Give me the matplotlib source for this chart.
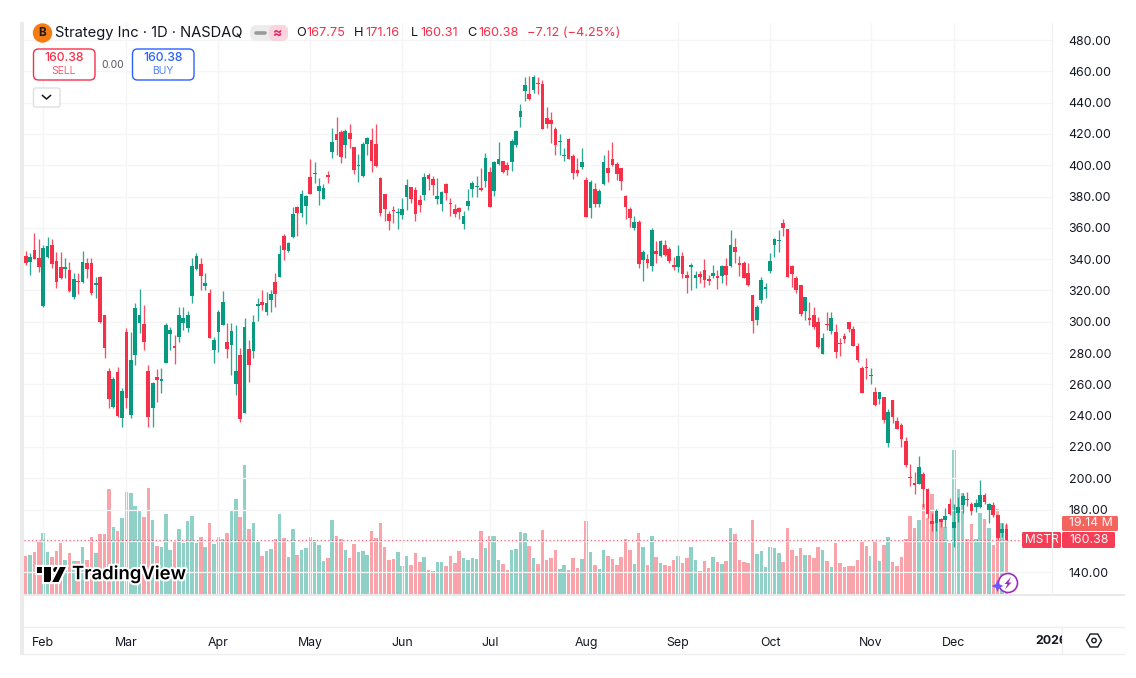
import matplotlib
matplotlib.use('Agg')
from matplotlib import pyplot as plt
from matplotlib import patheffects as pe
from matplotlib.patches import FancyBboxPatch, Circle, Polygon, Rectangle
from matplotlib.transforms import IdentityTransform
import numpy as np

plt.rcParams['font.family'] = ['Inter', 'DejaVu Sans']

opens = [342,338.2,345.8,340.5,310,341.6,349,338.8,335.2,333.7,
         333,316,325.8,325.2,337.7,337.3,323.7,328.4,304.1,268.5,
         245.7,267.7,238.7,293.4,240.4,278.5,299,298.5,268.5,245.1,
         264.7,262.3,273.8,292.4,283.9,290.4,299.2,295.8,316.4,333.9,
         336.9,322.8,318.1,281.9,293.6,297.9,287,285.1,260.2,278.5,
         241.9,282.6,281.3,310.1,312.6,306.2,313.9,325.4,328.4,355,
         345.2,353.9,373.5,369.3,374,392.5,394.4,383.3,378.6,393.7,
         408.2,419.9,421,412.7,420.8,411.8,399.3,393.1,413.5,416.1,
         413.5,392,381.4,368.8,371.4,369.2,368,379.4,386.1,384.1,
         377.5,380.7,393.5,391.4,378.6,375.4,388,375.6,372,372.8,
         362.4,373.7,385,386.1,385.2,390.1,395.6,383.7,400.7,402.7,
         400.1,401.8,412.7,430.6,447.4,445.5,448,452.3,451.9,430.4,
         428.9,423.1,415,405.9,416.9,406.1,396.9,399,390.5,372.9,
         384.6,375,388,398,404.2,400.8,398,380.3,372.2,360.1,
         363.5,339.4,340.1,335.6,345,341.8,348.8,346.5,335.6,335.2,
         342,329.8,334.9,328.1,330.5,333,326.9,329,329.4,329.2,
         335.8,335.8,347.7,337.3,337.5,330.9,316.9,301.1,313.9,320.7,
         332.4,348.8,351.4,363.3,359.2,335.8,327.7,323.5,306.8,301.7,
         304.1,300,279.4,298.1,294.1,293.5,286.2,290.9,299.8,295.4,
         284.5,270.2,270.6,265,255.1,250.4,252.1,222.7,250,236.8,
         234,224,200.6,197.2,196.3,202.7,192.9,172.9,171.6,173.7,
         173.3,183.3,168.4,177.6,183.1,186.4,183.6,181.8,181.8,189.5,
         179.7,183.1,176.3,165.2,167.75]
highs = [345.4,343.7,356.5,352.6,349,354.3,352.6,344.8,344.3,340.5,
         338.4,330.9,330.9,345.2,340.9,340.5,328.8,329.2,304.3,270.2,
         264.9,271.3,257.4,295.8,293.6,311.7,321.1,310.7,272.3,261.7,
         269.6,270.2,299,296.8,291.5,309.6,309.6,307.1,340.5,343.7,
         340.5,330.9,320.7,290.5,307.5,319.6,299.4,299.4,297.9,283,
         302.2,288.3,304.3,314.9,320.3,319.2,320.3,330.9,349,356,
         351.2,373.5,373.9,384.2,381,404,401.8,392,388,396.5,
         423.5,430.6,422.5,422.9,426.1,411.8,407.1,414.6,418.2,423.5,
         426.5,392.2,381.4,370.9,374.1,372.4,378.8,391.2,386.3,385.8,
         381,394.8,394.8,393.1,391.6,383.7,388.4,378.8,375.2,373.5,
         370.9,384.6,389.9,393.1,398.4,407.6,398.6,402.9,415,402.7,
         402.2,416.5,422.5,439.1,456.5,457,457.6,456.1,454.4,437.4,
         434.2,424.2,419.9,411.2,417.4,406.9,404.8,411.2,392.7,390.5,
         388.4,384.6,406.5,409.7,414.6,401.8,398.4,381,373.1,367.8,
         365,345.8,343.3,359.7,351.6,352.2,352.2,348,341.6,349,
         344.5,332.6,337.3,332.6,332.6,339.9,329.8,336.2,333,336.2,
         340.5,358.6,353.3,342,339,337.3,317.1,310.7,328.4,324.5,
         344.1,353.7,358.6,365.4,359.2,336.2,329.2,323.5,316,312.8,
         309.6,303.2,293,306.4,306.2,298.4,289.8,292.6,299.8,297.3,
         286.2,271.7,276.6,270.7,258.1,255.3,252.1,244,250,239.3,
         235.1,226.1,208.9,204.2,214.2,204.2,193.6,177.6,180.1,174.4,
         180.8,187.2,183.3,188.2,190.4,191,185,186.5,198.7,190.8,
         184,185,176.5,171.6,171.16]
lows = [336.2,329.9,339.9,332,309.6,340.5,334.1,321.3,327.1,327.7,
        319.2,314.3,317.7,324.5,327.7,317.1,315.4,299.4,277,244.7,
        244.7,239.3,232.5,244.7,238.3,272.3,292.6,281.9,232.5,232.5,
        248.9,254.2,273.4,281.9,273,287.3,294.7,293.6,311.7,333,
        320.3,320.3,289.4,273.4,280.9,297.9,276.6,265.9,253.2,236.1,
        241.9,261.7,276.6,300.7,307.5,304.3,306.4,309.2,328.4,339.4,
        344.8,353.3,354.8,367.1,362.4,381.6,388.4,374.6,378.2,388.8,
        404.8,406.5,401.2,404.4,410.8,394.4,389.2,392.7,406.5,395.8,
        399,367.5,364.5,358.8,363.3,359.2,365.4,371.3,376,364.5,
        370,377.7,384.1,380.9,375.2,370.9,377.7,367.5,367.1,365.4,
        359.2,371.4,379.9,379.9,383.7,386.3,373.5,380.3,400.1,395.2,
        393.5,396.3,411.4,424.2,441.2,441.6,445.9,445.5,422.9,423.5,
        414,406.5,406.5,402.9,403.7,391,393.1,397.5,366.7,366.5,
        373.5,373.5,387.4,389.5,399.5,390.5,384.2,365.4,360.7,358.6,
        334.1,326,334.5,332.6,337.7,341.1,342,337.3,333,332,
        327.7,318.1,320.3,321.5,324.5,322.4,323.5,327.7,320.7,325,
        323.5,335.2,337.3,329.2,327.7,322.8,293,297.9,311.7,314.9,
        331.3,341.6,344.8,355,328.4,322.4,318.6,303.9,301.1,297.9,
        295.1,283,279.4,294.7,292,277,278.1,286.2,293.7,284.5,
        274.3,254.7,263.2,260.2,246.2,247.4,235.5,220.2,235.1,231.3,
        220.2,207.4,195,189.9,196.3,181.8,174.4,166.3,166.3,169,
        169,176.5,156.3,172.3,177.6,182.3,176.5,178.6,180.8,183.6,
        171.6,175.5,160.5,162.2,160.31]
closes = [337.3,341.1,340.3,335.2,347.3,348.6,336.7,325.6,327.7,335,
          319.6,327.1,325.2,337.9,333.9,318.1,324.3,299.8,283,250.8,
          263.4,240,255.5,251,275.5,308.8,304.3,287.3,239.3,260.6,
          262.8,263.2,297.9,294.5,283.4,304.5,302.4,304.3,335.8,342,
          329.4,324.9,289.4,288.3,306.2,312.6,282.6,294.1,268.5,237.8,
          296.8,272.3,300,311.5,310.9,311.9,317.5,317.7,343.3,345.8,
          350.5,369,369.7,381.8,380.3,381.6,395,386.7,385.6,392.7,
          414.6,416.1,405,422,416.9,397.1,399.9,413.5,417.1,402.7,
          399.5,369.4,372,364.3,370.9,369.6,372.2,387.5,378.4,369,
          374.8,392.4,391.4,387.3,380.1,383.1,382.4,375.2,369,369.9,
          367.5,377.1,388.8,386.7,384.1,404.6,373.5,402.2,404.2,395.8,
          397.1,415.4,422,434.6,451,442.1,456.1,451.9,423.1,426.3,
          426.5,412.7,415.4,406.3,404.1,394.8,395.2,402,366.7,389.5,
          375.2,383.5,402.1,395.2,400.1,394.4,389.9,373.1,366.5,363.9,
          336.7,344.5,337.5,358.4,343.5,351.8,342.4,339,335.2,341.8,
          330.5,327.9,336.2,330.1,328.6,326.6,326.2,331.3,327.9,335.4,
          329.6,349.2,344.8,336.2,327.9,323.2,300.7,309.6,326.7,322.4,
          338.8,352.8,352,359.7,328.4,330.7,320.3,304.9,315.8,301.3,
          296.6,283.8,289.8,297.7,302.2,280.9,285.8,289.2,295.4,284.7,
          275.6,254.7,270.2,265.4,246.8,255.3,237.2,242.3,239.3,231.3,
          224.9,208.5,200.2,195.7,207,192.9,177.1,170.8,179.3,172.3,
          175.9,177.2,171.8,181.6,188.7,186,179.1,184,189.3,184.6,
          183.6,176.3,161.6,167.8,160.38]
volumes = [10.6,10.9,11.7,14.4,17,11.7,10.2,11.9,14,9.4,
           11.3,9.2,9.2,13,9.5,15.8,11.4,16.7,16.7,29.1,
           18.5,17.4,21,28.3,27.9,24.4,23.4,21.2,29.3,20.5,
           13.3,12.9,22.1,12.2,14.4,18,14.2,20.3,21.5,14.2,
           15.7,12.9,19.7,13.8,15.7,15.1,17,23,26.3,21.3,
           35.7,17.9,19.8,14.8,10.5,11.9,12.6,15.1,22.2,15.5,
           10.2,18,10.8,12.2,12.8,15.8,14.9,13.5,9.1,9.9,
           20.5,16.1,15.2,12.2,10.1,13.8,11.6,11.9,10.8,17.4,
           15.4,19.8,13.1,9.3,9.6,11.7,7.7,10.6,7.9,11.3,
           8.9,10.2,6.7,6.4,8.8,8.8,7.7,10.5,8.6,11.9,
           9.9,9.4,9.9,9.6,17.4,12.7,16.1,16.2,9.3,8.3,
           6.6,12.3,12.4,17.1,16.8,13.3,9.9,8.3,17.8,9.3,
           9.9,12.1,6.9,7.9,6.6,9.9,7.1,9.7,20.3,11.6,
           7.9,6.8,12.2,10.5,9.7,7.9,10.2,15.2,12.3,8.4,
           17,12.9,7.9,16.2,10.2,8.5,7.9,7.7,9.4,10.4,
           8.6,9.9,13.1,9.4,6.3,9.1,7.1,10.2,9,8.2,
           9.1,18.4,16.5,9.4,8.9,8.6,20.6,11,11.8,7.5,
           13.1,12.8,11.3,9,18.3,12.2,10.5,12.8,10.8,10.7,
           10,12.9,12.2,9.1,7.6,14.1,8.6,7.5,7.7,7.7,
           9.4,14.5,13.2,10.5,14.8,9.1,13.6,15.8,9,7.8,
           10.2,15.3,21.7,18.2,20.6,25,21,27.6,23.3,20.8,
           18.6,14.2,39.9,29,28,15.3,19.3,15.3,22.5,20.8,
           18.2,13.6,23.5,19.8,19.14]

month_labels = ['Feb', 'Mar', 'Apr', 'May', 'Jun', 'Jul', 'Aug', 'Sep', 'Oct', 'Nov', 'Dec']
month_ticks = [4, 23, 44, 65, 86, 106, 128, 149, 170, 193, 212]
price_ticks = list(range(140, 481, 20))
# the 160.00 label sits under the last price box in the reference
price_labels = ['' if p == 160 else '%.2f' % p for p in price_ticks]

RED = '#F7304A'
GREEN = '#089981'
TEXT = '#131722'

W, H = 1136, 678
fig = plt.figure(figsize=(W / 100, H / 100), dpi=100)

# chart pane in pixels: x 24-1052, y 23-594
pane = [24 / W, 1 - 594 / H, (1052 - 24) / W, (594 - 23) / H]
vol_ax = fig.add_axes(pane, zorder=1)
ax = fig.add_axes(pane, zorder=2)
ax.patch.set_alpha(0)

x = np.arange(len(closes))
o, h, l, c = map(np.array, (opens, highs, lows, closes))
up = c >= o
colors = np.where(up, GREEN, RED)

vol_ax.bar(x, volumes, width=0.8, color=np.where(up, '#089981', '#F23645'), alpha=0.45, linewidth=0)
vol_ax.set_xlim(-0.39, 234.4)
vol_ax.set_ylim(0, 158.2)
vol_ax.axis('off')

ax.vlines(x, l, h, colors=colors, linewidth=0.95, alpha=0.85, zorder=3)
ax.bar(x, np.maximum(np.abs(c - o), 0.8), bottom=np.minimum(o, c), width=0.84, color=colors, linewidth=0, zorder=4)
ax.axhline(closes[-1], color=RED, linewidth=0.9, linestyle=(0, (1, 2)), alpha=0.75, zorder=2)

ax.set_xlim(-0.39, 234.4)
ax.set_ylim(126, 490.9)
ax.yaxis.tick_right()
ax.set_yticks(price_ticks)
ax.set_yticklabels(price_labels, fontsize=8.9, color=TEXT)
ax.set_xticks(month_ticks)
ax.set_xticklabels(month_labels, fontsize=8.9, color=TEXT)
ax.tick_params(axis='both', length=0)
ax.tick_params(axis='y', pad=12)
ax.tick_params(axis='x', pad=31)
ax.grid(True, color='#F5F5F5', linewidth=0.9, zorder=0)
ax.set_axisbelow(True)
for s in ax.spines.values():
    s.set_visible(False)

# overlay in pixel coordinates for the widgets around the chart
ui = fig.add_axes([0, 0, 1, 1], zorder=3)
ui.set_xlim(0, W)
ui.set_ylim(H, 0)
ui.axis('off')


def box(x0, y0, x1, y1, face='white', edge='none', lw=1.0, r=3):
    ui.add_patch(FancyBboxPatch((x0 + r, y0 + r), x1 - x0 - 2 * r, y1 - y0 - 2 * r,
                                boxstyle='round,pad=%s,rounding_size=%s' % (r, r),
                                facecolor=face, edgecolor=edge, linewidth=lw))


# frame lines
ui.add_patch(Rectangle((20, 22), 4, 633, color='#EBEBEB', linewidth=0))
ui.plot([24, 1124], [594.5, 594.5], color='#E9E9E9', linewidth=1.4)
ui.plot([24, 1124], [627, 627], color='#EFEFEF', linewidth=1.0)
ui.plot([24, 1124], [654, 654], color='#EFEFEF', linewidth=1.0)
ui.plot([1062, 1062], [627, 654], color='#EFEFEF', linewidth=1.0)
ui.plot([1052, 1052], [23, 594], color='#F1F1F1', linewidth=1.0)

# header
ui.add_patch(Circle((42.5, 33), 9, color='#F57C13'))
ui.text(42.5, 33.5, 'B', fontsize=8.5, fontweight='bold', color='#1B1B1B', ha='center', va='center')
ui.text(55, 33.5, 'Strategy Inc · 1D · NASDAQ', fontsize=10.6, color=TEXT, va='center')
box(250, 25, 288, 41, face='#ECECEC', r=7)
ui.add_patch(FancyBboxPatch((269, 25), 19, 16, boxstyle='round,pad=0,rounding_size=6', facecolor='#FAD4DE', edgecolor='none'))
ui.plot([256, 265], [33, 33], color='#9A9A9A', linewidth=2.6, solid_capstyle='round')
ui.text(278, 33, '≈', fontsize=10, color='#E91E63', ha='center', va='center', fontweight='bold')

ohlc_x = [296, 306, 354, 365, 411, 420, 467, 478]
ohlc_txt = ['O', '167.75', 'H', '171.16', 'L', '160.31', 'C', '160.38']
for px, t in zip(ohlc_x, ohlc_txt):
    ui.text(px, 33.5, t, fontsize=9.2, va='center', color=TEXT if t.isalpha() else RED)
ui.text(527, 33.5, '−7.12 (−4.25%)', fontsize=9.2, va='center', color=RED)

# sell / buy
box(33.5, 49, 95, 80, edge=RED, lw=1.0, r=5)
ui.text(64, 58, '160.38', fontsize=8.8, color=RED, ha='center', va='center', fontweight='medium')
ui.text(64, 71, 'SELL', fontsize=7.5, color=RED, ha='center', va='center', alpha=0.8)
ui.text(113, 64.5, '0.00', fontsize=7.5, color='#50535E', ha='center', va='center')
box(132.5, 49, 194, 80, edge='#2962FF', lw=1.0, r=5)
ui.text(163, 58, '160.38', fontsize=8.8, color='#2962FF', ha='center', va='center', fontweight='medium')
ui.text(163, 71, 'BUY', fontsize=7.5, color='#2962FF', ha='center', va='center', alpha=0.8)
box(33.5, 88, 60, 107, edge='#E0E0E0', lw=1.0, r=2)
ui.plot([42.5, 46.5, 50.5], [95.5, 99, 95.5], color=TEXT, linewidth=1.1)

# watermark
halo = [pe.withStroke(linewidth=3, foreground='white')]
logo = [Rectangle((37, 567), 13.5, 5.5), Rectangle((44, 567), 6.5, 15),
        Circle((56, 569.8), 2.8), Polygon([(60, 567), (65.8, 567), (58.5, 582), (52.2, 582)])]
for part in logo:
    part.set_facecolor('black')
    part.set_edgecolor('none')
    part.set_path_effects([pe.withStroke(linewidth=3, foreground='white')])
    ui.add_patch(part)
ui.text(72, 574.5, 'TradingView', fontsize=13.3, fontweight='semibold', color='black', va='center', path_effects=halo)

# last value labels
box(1062, 516, 1118, 531, face='#F2655F', r=1.5)
ui.text(1069, 523.5, '19.14 M', fontsize=8.9, color='white', va='center', alpha=0.95)
box(1022, 532, 1061, 548, face='#F53D55', r=1.5)
ui.text(1041.5, 540, 'MSTR', fontsize=8.6, color='white', ha='center', va='center', alpha=0.95)
box(1062, 532, 1115, 548, face='#F53D55', r=1.5)
ui.text(1069, 540, '160.38', fontsize=8.9, color='white', va='center', alpha=0.95)

# bolt badge
ui.add_patch(Circle((1008, 583), 9.5, facecolor='white', edgecolor='#9C2CC0', linewidth=1.2))
ui.add_patch(Polygon([(1011, 577), (1004.5, 584), (1007.5, 584), (1005, 589.5), (1011.5, 582.5), (1008.5, 582.5)],
                     facecolor='#9C2CC0', edgecolor='none'))
ui.add_patch(Polygon([(997.5, 580), (999.3, 584.2), (1003.5, 586), (999.3, 587.8), (997.5, 592), (995.7, 587.8), (991.5, 586), (995.7, 584.2)],
                     facecolor='#6E56FF', edgecolor='none'))

# time axis end: year label is cut by the price scale, settings icon
year = ui.text(1051, 640.5, '2026', fontsize=8.9, fontweight='bold', color=TEXT, ha='center', va='center', clip_on=True)
year.set_clip_path(Rectangle((1020, H - 654), 42, 27, transform=IdentityTransform()))
ang = np.deg2rad(np.arange(0, 360, 60))
ui.add_patch(Polygon(np.c_[1094 + 7.5 * np.sin(ang + np.pi / 2), 640.5 + 7.5 * np.cos(ang + np.pi / 2)],
                     facecolor='white', edgecolor=TEXT, linewidth=1.0))
ui.add_patch(Circle((1094, 640.5), 2.2, facecolor='white', edgecolor=TEXT, linewidth=1.0))

fig.savefig('out.png', dpi=100)
